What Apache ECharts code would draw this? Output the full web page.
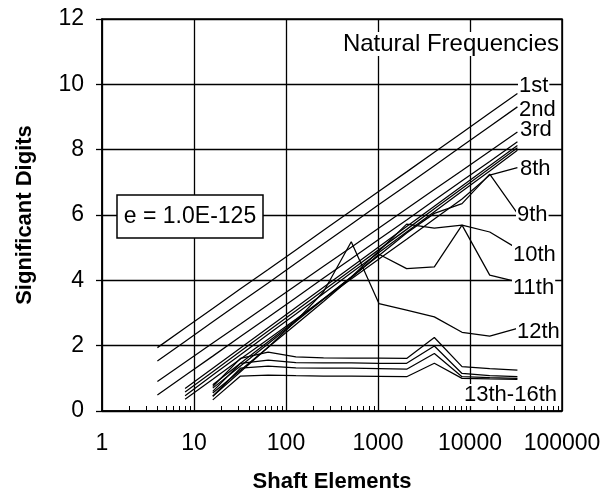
<!DOCTYPE html>
<html>
<head>
<meta charset="utf-8">
<script src="https://cdn.jsdelivr.net/npm/echarts@6/dist/echarts.min.js"></script>
<style>html,body{margin:0;padding:0;background:#fff}#c{width:605px;height:495px}</style>
</head>
<body>
<div id="c"></div>
<script>
// Shaft elements (x positions of data points)
const shaftElements = [4, 8, 16, 32, 64, 128, 256, 512, 1024, 2048, 4096, 8192, 16384, 32768];
// Significant digits per natural frequency (null = mode not available)
const mode1  = [1.94, 2.54, 3.14, 3.74, 4.33, 4.93, 5.53, 6.13, 6.73, 7.32, 7.92, 8.52, 9.12, 9.72];
const mode2  = [1.53, 2.13, 2.73, 3.33, 3.92, 4.52, 5.12, 5.72, 6.32, 6.91, 7.51, 8.11, 8.71, 9.31];
const mode3  = [0.90, 1.49, 2.08, 2.66, 3.25, 3.84, 4.43, 5.01, 5.60, 6.19, 6.78, 7.36, 7.95, 8.54];
const mode4  = [0.49, 1.09, 1.68, 2.28, 2.87, 3.47, 4.07, 4.66, 5.26, 5.85, 6.45, 7.05, 7.64, 8.24];
const mode5  = [null, 0.69, 1.31, 1.93, 2.55, 3.17, 3.79, 4.41, 5.03, 5.65, 6.27, 6.89, 7.51, 8.13];
const mode6  = [null, 0.58, 1.20, 1.83, 2.45, 3.07, 3.70, 4.32, 4.94, 5.56, 6.19, 6.81, 7.43, 8.06];
const mode7  = [null, 0.47, 1.10, 1.72, 2.35, 2.97, 3.60, 4.23, 4.85, 5.48, 6.10, 6.73, 7.35, 7.98];
const mode8  = [null, 0.36, 0.97, 1.59, 2.20, 2.81, 3.43, 4.04, 4.65, 5.26, 5.88, 6.49, 7.22, 7.45];
const mode9  = [null, null, 0.80, 1.46, 2.12, 2.78, 3.44, 4.10, 4.76, 5.45, 6.05, 6.35, 7.25, 6.05];
const mode10 = [null, null, 0.70, 1.38, 2.06, 2.74, 3.42, 4.10, 4.90, 5.72, 5.60, 5.69, 5.48, 4.97];
const mode11 = [null, null, 0.55, 1.25, 1.95, 2.65, 3.35, 4.08, 4.80, 4.36, 4.41, 5.69, 4.16, 3.95];
const mode12 = [null, null, 0.45, 1.20, 1.95, 2.75, 3.65, 5.18, 3.29, 3.09, 2.88, 2.41, 2.29, 2.53];
const mode13 = [null, null, 0.75, 1.61, 1.80, 1.66, 1.63, 1.62, 1.62, 1.61, 2.25, 1.36, 1.30, 1.25];
const mode14 = [null, null, 0.60, 1.46, 1.56, 1.48, 1.47, 1.47, 1.46, 1.46, 1.99, 1.15, 1.08, 1.05];
const mode15 = [null, null, 0.45, 1.31, 1.37, 1.32, 1.31, 1.31, 1.30, 1.28, 1.76, 1.05, 1.02, 1.00];
const mode16 = [null, null, 0.34, 1.07, 1.10, 1.08, 1.07, 1.07, 1.06, 1.05, 1.46, 1.00, 0.98, 0.97];
const modes = [mode1, mode2, mode3, mode4, mode5, mode6, mode7, mode8,
               mode9, mode10, mode11, mode12, mode13, mode14, mode15, mode16];
const modeNames = ['1st','2nd','3rd','4th','5th','6th','7th','8th',
                   '9th','10th','11th','12th','13th','14th','15th','16th'];
// Axis ticks
const xTickLabels = [1, 10, 100, 1000, 10000, 100000];
const xMinorTicks = [];
for (let d = 1; d < 100000; d *= 10) { for (let m = 2; m <= 9; m++) xMinorTicks.push(m * d); }
const yTicks = [0, 2, 4, 6, 8, 10, 12];
// Annotation texts
const annotations = [
  { text: 'Natural Frequencies', x: 560, y: 44, align: 'right', size: 24 },
  { text: '1st', x: 518, y: 86 },
  { text: '2nd', x: 518, y: 110 },
  { text: '3rd', x: 519, y: 130 },
  { text: '8th', x: 519, y: 169 },
  { text: '9th', x: 516, y: 215 },
  { text: '10th', x: 512, y: 255 },
  { text: '11th', x: 512, y: 288 },
  { text: '12th', x: 516, y: 332 },
  { text: '13th-16th', x: 558, y: 395, align: 'right' }
];
const boxText = 'e = 1.0E-125';

const FONT = '"Liberation Sans", Arial, Helvetica, sans-serif';
const chart = echarts.init(document.getElementById('c'), null, { renderer: 'canvas' });

const series = modes.map((vals, k) => ({
  name: modeNames[k],
  type: 'line',
  xAxisIndex: 0,
  showSymbol: false,
  symbol: 'none',
  silent: true,
  lineStyle: { color: '#000', width: 1.25 },
  data: shaftElements.map((x, i) => vals[i] == null ? null : [x, vals[i]]).filter(p => p)
}));

const graphic = annotations.map(a => ({
  type: 'text',
  z: 100,
  style: {
    text: a.text, x: a.x, y: a.y,
    align: a.align || 'left', verticalAlign: 'middle',
    font: (a.size || 22) + 'px ' + FONT, fill: '#000',
    backgroundColor: '#fff', padding: [0, 1]
  }
}));
graphic.push({
  type: 'rect', z: 100,
  shape: { x: 117, y: 195, width: 146, height: 43 },
  style: { fill: '#fff', stroke: '#000', lineWidth: 1.5 }
});
graphic.push({
  type: 'text', z: 101,
  style: { text: boxText, x: 190, y: 217, align: 'center', verticalAlign: 'middle',
           font: '23px ' + FONT, fill: '#000' }
});

chart.setOption({
  animation: false,
  backgroundColor: '#fff',
  textStyle: { fontFamily: FONT, color: '#000' },
  grid: { left: 102, right: 43, top: 19, bottom: 84, show: true, borderColor: '#000', borderWidth: 1.5,
          backgroundColor: 'transparent', containLabel: false, outerBoundsMode: 'none' },
  xAxis: [{
    type: 'log', logBase: 10, min: 1, max: 100000,
    axisLine: { show: true, lineStyle: { color: '#000', width: 1.5 } },
    axisTick: { show: false },
    axisLabel: { fontSize: 23, color: '#000', margin: 21, customValues: xTickLabels, formatter: v => String(Math.round(v)) },
    splitLine: { show: true, lineStyle: { color: '#000', width: 1.3 } },
    name: 'Shaft Elements', nameLocation: 'middle', nameGap: 60,
    nameTextStyle: { fontSize: 22, fontWeight: 'bold', color: '#000' }
  }, {
    // helper axis in log10 units, used only to draw the minor ticks
    type: 'value', min: 0, max: 5, position: 'bottom',
    axisLine: { show: false },
    axisLabel: { show: false },
    splitLine: { show: false },
    axisTick: { show: true, inside: true, length: 5, customValues: xMinorTicks.map(v => Math.log10(v)),
                lineStyle: { color: '#000', width: 1 } }
  }],
  yAxis: {
    type: 'value', min: 0, max: 12, interval: 2,
    axisLine: { show: true, lineStyle: { color: '#000', width: 1.5 } },
    axisTick: { show: true, length: 6, lineStyle: { color: '#000', width: 1.3 } },
    axisLabel: { fontSize: 23, color: '#000', margin: 18, customValues: yTicks },
    splitLine: { show: true, lineStyle: { color: '#000', width: 1.3 } },
    name: 'Significant Digits', nameLocation: 'middle', nameGap: 66,
    nameTextStyle: { fontSize: 22, fontWeight: 'bold', color: '#000' }
  },
  series: series,
  graphic: graphic
});
</script>
</body>
</html>
